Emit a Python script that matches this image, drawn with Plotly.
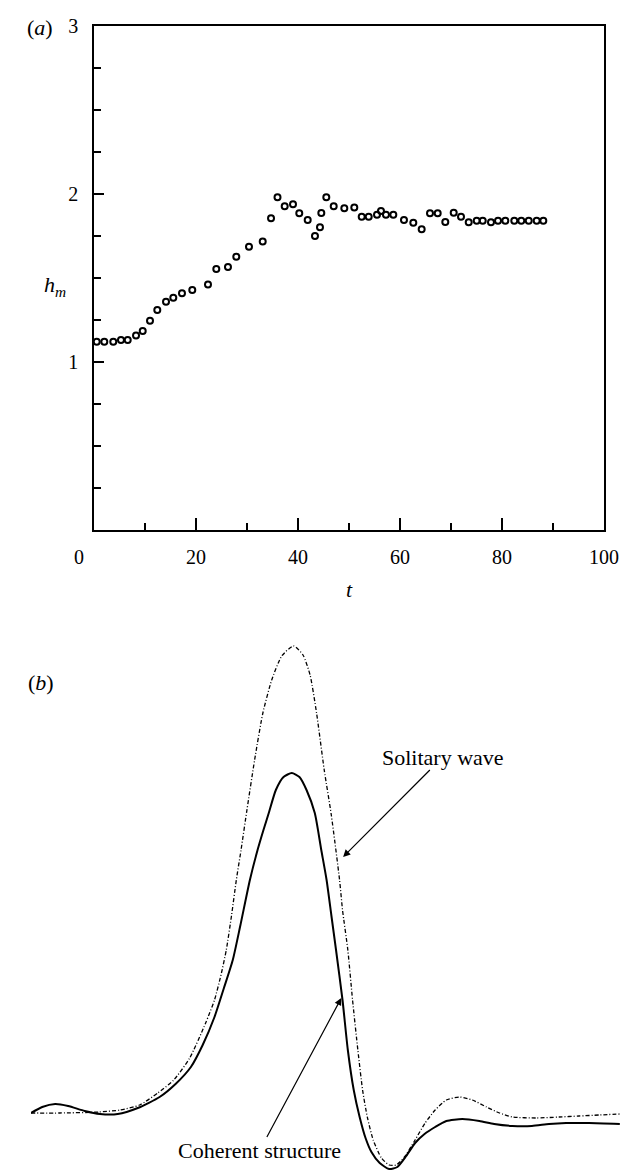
import plotly.graph_objects as go

# ---- panel (a): maximum height h_m versus time t ----
t_vals = [0.53, 2.02, 3.78, 5.29, 6.61, 8.24, 9.55, 10.98, 12.41, 14.12,
          15.55, 17.25, 19.27, 22.35, 23.98, 26.27, 27.90, 30.39, 33.08, 34.71,
          35.98, 37.39, 39.02, 40.25, 41.90, 43.33, 44.31, 44.57, 45.55, 47.00,
          49.08, 51.04, 52.49, 53.86, 55.49, 56.27, 57.25, 58.69, 60.78, 62.61,
          64.25, 65.88, 67.39, 68.88, 70.53, 71.96, 73.47, 75.04, 76.22, 77.84,
          79.22, 80.65, 82.41, 83.78, 85.24, 86.80, 88.10]
hm_vals = [1.121, 1.121, 1.121, 1.131, 1.131, 1.157, 1.185, 1.246, 1.310, 1.359,
           1.383, 1.409, 1.429, 1.462, 1.554, 1.565, 1.627, 1.686, 1.718, 1.855,
           1.980, 1.927, 1.939, 1.885, 1.845, 1.750, 1.802, 1.887, 1.980, 1.927,
           1.915, 1.919, 1.865, 1.865, 1.877, 1.899, 1.877, 1.877, 1.845, 1.829,
           1.790, 1.885, 1.885, 1.833, 1.889, 1.865, 1.832, 1.841, 1.841, 1.832,
           1.841, 1.841, 1.841, 1.841, 1.841, 1.841, 1.841]

x_tick_vals = [0, 20, 40, 60, 80, 100]
x_tick_text = ["0" + "\u00a0" * 6, "20", "40", "60", "80", "100"]
y_tick_vals = [1, 2, 3]
y_tick_text = ["1", "2", "3"]

# ---- panel (b): surface profiles ----
sol_x = [0.0, 4.9, 11.5, 15.1, 18.4, 21.5, 24.2, 26.9, 29.6, 31.1, 32.2, 33.1,
         34.0, 34.8, 35.6, 36.6, 37.9, 39.3, 40.8, 42.5, 44.5, 46.1, 47.3, 48.4,
         49.7, 50.9, 52.3, 52.8, 53.7, 54.5, 55.4, 56.2, 57.0, 58.0, 59.4, 60.7,
         61.9, 63.3, 65.1, 66.8, 68.5, 70.4, 72.6, 74.8, 77.2, 79.4, 81.6, 85.6,
         89.5, 92.9, 96.3, 99.8]
sol_y = [0.00, 0.00, 0.01, 0.03, 0.08, 0.20, 0.33, 0.55, 0.90, 1.13, 1.38, 1.63,
         1.98, 2.33, 2.63, 3.03, 3.53, 4.00, 4.33, 4.57, 4.67, 4.58, 4.38, 4.00,
         3.43, 2.98, 2.33, 2.03, 1.63, 1.13, 0.63, 0.23, -0.04, -0.27, -0.45, -0.52,
         -0.52, -0.44, -0.27, -0.10, 0.03, 0.13, 0.16, 0.13, 0.06, 0.00, -0.04, -0.05,
         -0.04, -0.03, -0.02, -0.01]

coh_x = [0.0, 1.9, 4.1, 6.3, 9.1, 11.7, 14.7, 18.1, 21.8, 24.5, 27.1, 29.1,
         31.1, 32.7, 34.2, 35.5, 37.1, 38.4, 39.4, 40.3, 41.5, 42.8, 44.2, 45.5,
         46.7, 48.1, 49.2, 50.1, 50.9, 51.7, 52.8, 53.7, 54.7, 55.7, 56.7, 57.7,
         59.1, 60.7, 62.1, 63.6, 65.1, 66.7, 68.5, 70.4, 73.1, 76.0, 78.5, 81.6,
         84.9, 87.8, 90.7, 94.6, 99.8]
coh_y = [0.00, 0.06, 0.09, 0.07, 0.02, -0.01, -0.01, 0.05, 0.16, 0.29, 0.46, 0.68,
         0.96, 1.25, 1.53, 1.88, 2.33, 2.63, 2.83, 3.00, 3.23, 3.36, 3.40, 3.36,
         3.23, 3.00, 2.63, 2.33, 1.98, 1.63, 1.13, 0.63, 0.23, -0.04, -0.25, -0.39,
         -0.50, -0.56, -0.54, -0.43, -0.30, -0.21, -0.14, -0.08, -0.06, -0.08, -0.11, -0.13,
         -0.13, -0.11, -0.10, -0.10, -0.11]

SERIF = "Liberation Serif"
BLACK = "#000000"

fig = go.Figure()

fig.add_trace(go.Scatter(
    x=t_vals, y=hm_vals, mode="markers", xaxis="x", yaxis="y",
    marker=dict(symbol="circle-open", size=6, color=BLACK,
                line=dict(width=2, color=BLACK)),
    showlegend=False, hoverinfo="skip"))

fig.add_trace(go.Scatter(
    x=sol_x, y=sol_y, mode="lines", xaxis="x2", yaxis="y2",
    line=dict(color=BLACK, width=1.3, dash="4px,2px,1px,2px", shape="spline",
              smoothing=0.6),
    showlegend=False, hoverinfo="skip"))

fig.add_trace(go.Scatter(
    x=coh_x, y=coh_y, mode="lines", xaxis="x2", yaxis="y2",
    line=dict(color=BLACK, width=2, shape="spline", smoothing=0.6),
    showlegend=False, hoverinfo="skip"))

W, H = 621, 1176
label_font = dict(family=SERIF, size=22, color=BLACK)

fig.update_layout(
    width=W, height=H,
    margin=dict(l=0, r=0, t=0, b=0, autoexpand=False),
    paper_bgcolor="white", plot_bgcolor="white",
    font=dict(family=SERIF, size=20, color=BLACK),
    xaxis=dict(
        domain=[94 / W, 604 / W], range=[0, 100], anchor="y", automargin=False,
        showgrid=False, zeroline=False,
        showline=True, linecolor=BLACK, linewidth=1.6, mirror=True,
        tickmode="array", tickvals=x_tick_vals, ticktext=x_tick_text,
        ticks="inside", ticklen=12, tickwidth=1.5, tickcolor=BLACK,
        ticklabelstandoff=8,
        minor=dict(dtick=10, ticks="inside", ticklen=7, tickwidth=1.5,
                   tickcolor=BLACK, showgrid=False),
        tickfont=dict(family=SERIF, size=20, color=BLACK),
    ),
    yaxis=dict(
        domain=[1 - 530 / H, 1 - 26 / H], range=[0, 3], anchor="x", automargin=False,
        showgrid=False, zeroline=False,
        showline=True, linecolor=BLACK, linewidth=1.6, mirror=True,
        tickmode="array", tickvals=y_tick_vals, ticktext=y_tick_text,
        ticks="inside", ticklen=10, tickwidth=1.5, tickcolor=BLACK,
        ticklabelstandoff=10,
        minor=dict(dtick=0.25, ticks="inside", ticklen=7, tickwidth=1.5,
                   tickcolor=BLACK, showgrid=False),
        tickfont=dict(family=SERIF, size=20, color=BLACK),
    ),
    xaxis2=dict(
        domain=[31 / W, 1.0], range=[0, 100], anchor="y2", visible=False,
        automargin=False,
    ),
    yaxis2=dict(
        domain=[0, 1 - 600 / H], range=[-0.63, 5.13], anchor="x2", visible=False,
        automargin=False,
    ),
)

# panel labels and axis titles
fig.add_annotation(x=25 / W, y=1 - 13 / H, xref="paper", yref="paper",
                   text="(<i>a</i>)", showarrow=False, font=label_font)
fig.add_annotation(x=26 / W, y=1 - 683 / H, xref="paper", yref="paper",
                   text="(<i>b</i>)", showarrow=False, font=label_font)
fig.add_annotation(x=350 / W, y=1 - 590 / H, xref="paper", yref="paper",
                   text="<i>t</i>", showarrow=False, font=label_font)
fig.add_annotation(x=42 / W, y=1 - 270 / H, xref="paper", yref="paper",
                   text="<i>h<sub>m</sub></i>", showarrow=False, font=label_font)

# curve labels, each with an arrow pointing at its curve
fig.add_annotation(x=52.9, y=2.56, xref="x2", yref="y2",
                   ax=69.8, ay=3.56, axref="x2", ayref="y2",
                   text="Solitary wave", font=label_font, showarrow=True,
                   arrowhead=2, arrowsize=1.2, arrowwidth=1.2, arrowcolor=BLACK,
                   borderpad=0)
fig.add_annotation(x=52.6, y=1.15, xref="x2", yref="y2",
                   ax=38.8, ay=-0.37, axref="x2", ayref="y2",
                   text="Coherent structure", font=label_font, showarrow=True,
                   arrowhead=2, arrowsize=1.2, arrowwidth=1.2, arrowcolor=BLACK,
                   borderpad=0)

fig.write_html("out.html")
